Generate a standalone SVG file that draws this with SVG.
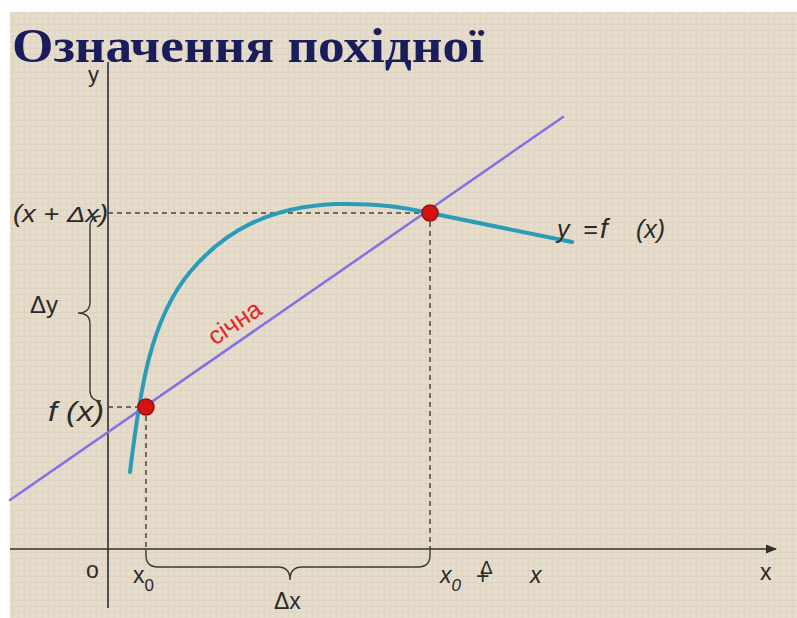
<svg xmlns="http://www.w3.org/2000/svg" width="797" height="618" viewBox="0 0 797 618">
<defs>
<style>
.lbl{font-family:"Liberation Sans",Arial,sans-serif;fill:#2a2a2a;font-size:23px}
.it{font-style:italic}
.dash{stroke:#4a4438;stroke-width:1.5;fill:none;stroke-dasharray:5 4}
.axis{stroke:#2f2f2f;stroke-width:1.6;fill:none}
.brace{stroke:#3a3a3a;stroke-width:1.4;fill:none}
.pt{fill:#d41414;stroke:#9a0c0c;stroke-width:1.5}
</style>
<pattern id="tex" width="6" height="6" patternUnits="userSpaceOnUse">
<rect width="6" height="6" fill="#e5dccb"/>
<path d="M0 0.5H6M0.5 0V6" stroke="#d9cfbb" stroke-width="1" opacity="0.6"/>
</pattern>
<marker id="arr" viewBox="0 0 10 10" refX="9" refY="5" markerWidth="7" markerHeight="7" orient="auto">
<path d="M0,1 L10,5 L0,9 z" fill="#2f2f2f"/>
</marker>
</defs>
<rect width="797" height="618" fill="#ffffff"/>
<rect x="10" y="12" width="787" height="606" fill="url(#tex)"/>

<g id="title">
<text x="12" y="62" font-family="Liberation Serif,'Times New Roman',serif" font-weight="bold" font-size="48" fill="#1a1d5c" textLength="472" lengthAdjust="spacingAndGlyphs">Означення похідної</text>
</g>

<g id="axes">
<line class="axis" x1="108" y1="62" x2="108" y2="608"/>
<line class="axis" x1="10" y1="549" x2="776" y2="549" marker-end="url(#arr)"/>
</g>

<g id="guides">
<line class="dash" x1="108" y1="213" x2="430" y2="213"/>
<line class="dash" x1="108" y1="407" x2="146" y2="407"/>
<line class="dash" x1="146" y1="407" x2="146" y2="549" stroke-dasharray="3 3"/>
<line class="dash" x1="430" y1="213" x2="430" y2="549" stroke-dasharray="4 3"/>
</g>

<g id="braces">
<path class="brace" d="M101,216 Q90,216 90,227 L90,302 Q90,313 78,313 Q90,313 90,324 L90,390 Q90,401 101,401"/>
<path class="brace" d="M146,549 L146,555 Q146,567 158,567 L278,567 Q290,567 290,580 Q290,567 302,567 L418,567 Q430,567 430,555 L430,549"/>
</g>

<g id="secant">
<line x1="10" y1="500" x2="563" y2="117" stroke="#7f72e6" stroke-width="2.5" stroke-linecap="round"/>
<text x="215" y="346" transform="rotate(-34 215 346)" font-family="Liberation Sans,Arial,sans-serif" font-size="25" fill="#e0262a">січна</text>
</g>

<g id="curve">
<path d="M130,472 C140,390 150,320 190,272 C225,230 270,207 335,204 C385,203 410,209 430,213 L572,242" fill="none" stroke="#2b9cb8" stroke-width="4" stroke-linecap="round"/>
</g>

<g id="points">
<circle class="pt" cx="146" cy="407" r="8"/>
<circle class="pt" cx="430" cy="213" r="8"/>
</g>

<g id="labels">
<text class="lbl" x="88" y="82" style="font-size:22px">y</text>
<text class="lbl it" x="13" y="222" textLength="95" lengthAdjust="spacingAndGlyphs">(x + Δx)</text>
<text class="lbl" x="30" y="313" style="font-size:24px">Δy</text>
<text class="lbl it" x="48" y="421" style="font-size:27px" textLength="56" lengthAdjust="spacingAndGlyphs">f (x)</text>
<text class="lbl" x="86" y="578">o</text>
<text class="lbl" x="133" y="583">x<tspan style="font-size:17px" dy="8">0</tspan></text>
<text class="lbl" x="274" y="609">Δx</text>
<text class="lbl it" x="440" y="583">x<tspan style="font-size:17px" dy="8">0</tspan></text>
<text class="lbl" x="476" y="584">+</text>
<text class="lbl" x="480" y="574" style="font-size:19px">Δ</text>
<text class="lbl it" x="530" y="583">x</text>
<text class="lbl" x="760" y="580">x</text>
<text class="lbl it" x="557" y="238" style="font-size:25px">y<tspan x="583">=</tspan><tspan x="600" style="font-size:28px">f</tspan><tspan x="636">(x)</tspan></text>
</g>
</svg>
